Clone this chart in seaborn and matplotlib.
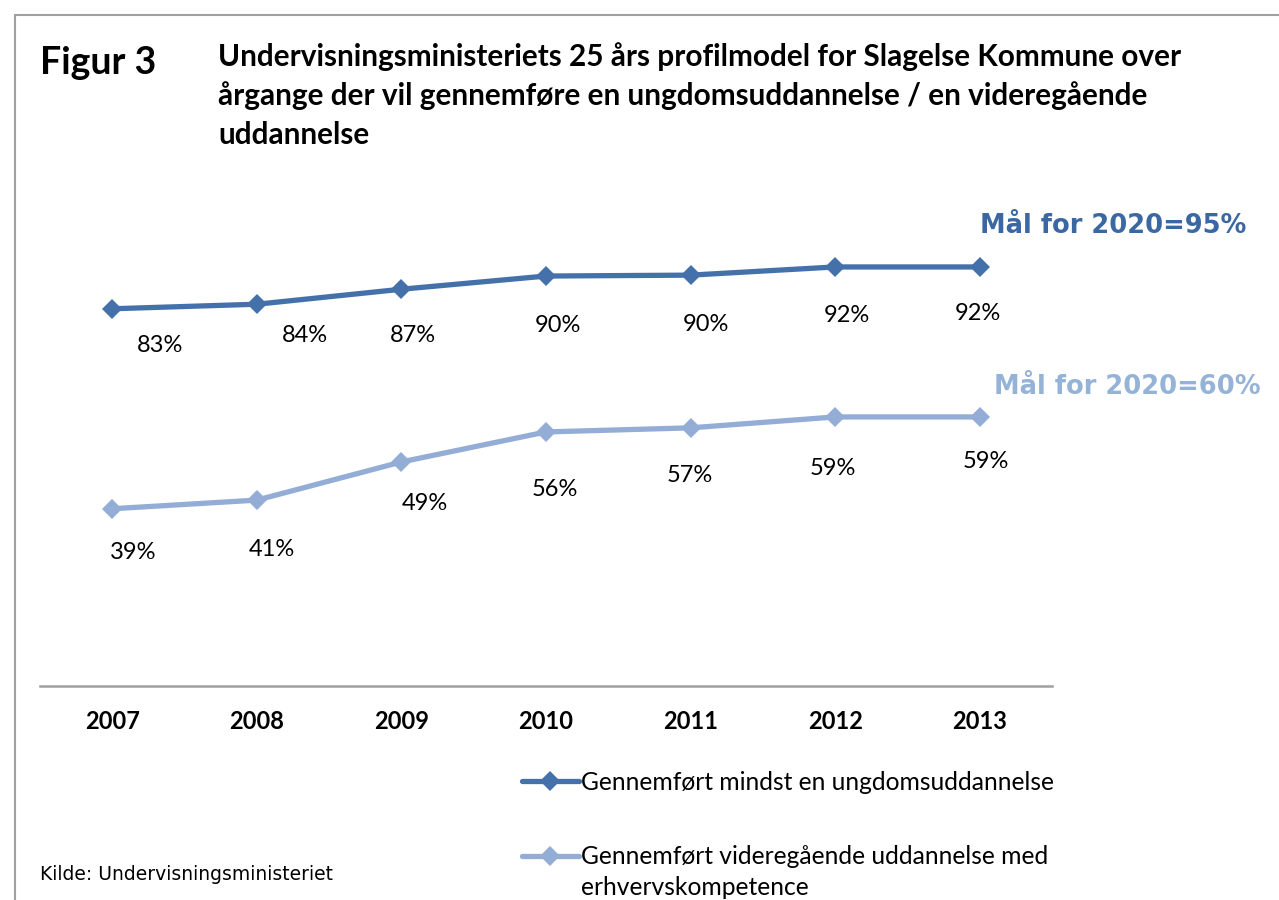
import matplotlib
matplotlib.use('Agg')
import matplotlib.pyplot as plt
import matplotlib.patches as mpatches
import pandas as pd
import seaborn as sns

# data
years = ['2007', '2008', '2009', '2010', '2011', '2012', '2013']
ungdom = [83.0, 84.0, 87.3, 90.2, 90.4, 92.2, 92.2]
videregaaende = [39.0, 40.9, 49.3, 55.9, 56.8, 59.2, 59.2]
series_names = ['Gennemført mindst en ungdomsuddannelse',
                'Gennemført videregående uddannelse med']
legend_wrap = 'erhvervskompetence'
goal_labels = ['Mål for 2020=95%', 'Mål for 2020=60%']

# label nudges (pixels) so the percentages sit where the original put them
ungdom_offsets = [(48, -37), (48, -31), (12, -46), (12, -49), (15, -49), (12, -49), (-2, -47)]
vid_offsets = [(21, -44), (15, -49), (23, -42), (9, -58), (-1, -48), (-2, -52), (6, -45)]

dark_blue = '#4571AA'
light_blue = '#93ADD6'

df = pd.DataFrame({
    'year': years * 2,
    'value': ungdom + videregaaende,
    'serie': [series_names[0]] * len(years) + [series_names[1]] * len(years),
})

sns.set_theme(style='white')
plt.rcParams['font.family'] = ['Lato', 'DejaVu Sans']
plt.rcParams['text.color'] = 'black'
plt.rcParams['xtick.color'] = 'black'

W, H = 1279, 900
fig = plt.figure(figsize=(W / 100, H / 100), dpi=100)
ax = fig.add_axes([40 / W, 1 - 686 / H, 1012 / W, 454.5 / H])

sns.lineplot(data=df, x='year', y='value', hue='serie', style='serie',
             markers=['D', 'D'], dashes=False, markersize=10, linewidth=3.8,
             markeredgewidth=0, palette=[dark_blue, light_blue],
             legend=False, ax=ax)

ax.set_xlim(-0.5, len(years) - 0.5)
ax.set_ylim(0, 100)
ax.set_xlabel('')
ax.set_ylabel('')
ax.set_yticks([])
for s in ['left', 'right', 'top']:
    ax.spines[s].set_visible(False)
ax.spines['bottom'].set_color('#A0A0A0')
ax.spines['bottom'].set_linewidth(1.8)
ax.tick_params(axis='x', length=0, pad=17)
for lab in ax.get_xticklabels():
    lab.set_fontweight('bold')
    lab.set_fontsize(17)

# value labels
for i, (v, off) in enumerate(zip(ungdom, ungdom_offsets)):
    ax.annotate(f'{v:.0f}%', (i, v), xytext=off, textcoords='offset pixels',
                ha='center', va='center', fontsize=17)
for i, (v, off) in enumerate(zip(videregaaende, vid_offsets)):
    ax.annotate(f'{v:.0f}%', (i, v), xytext=off, textcoords='offset pixels',
                ha='center', va='center', fontsize=17)

# 2020 goals
ax.text(6.0, 101.2, goal_labels[0], ha='left', va='center', fontsize=18.5,
        fontweight='bold', family='DejaVu Sans', color='#3B68A2', clip_on=False)
ax.text(6.1, 65.8, goal_labels[1], ha='left', va='center', fontsize=18.5,
        fontweight='bold', family='DejaVu Sans', color='#95B3D7', clip_on=False)

# legend
leg = fig.legend(handles=ax.lines[:2], labels=series_names, loc='upper left',
                 bbox_to_anchor=(522 / W, 1 - 771 / H), frameon=False, fontsize=17.7,
                 handlelength=2.3, handletextpad=0.1, labelspacing=2.08,
                 borderpad=0, borderaxespad=0)
fig.canvas.draw()
bb = leg.get_texts()[1].get_window_extent().transformed(fig.transFigure.inverted())
fig.text(bb.x0, bb.y0 - 31 / H + (bb.y1 - bb.y0) / 2, legend_wrap, fontsize=17.7,
         ha='left', va='center')

# titles and source
fig.text(40 / W, 1 - 63 / H, 'Figur 3', fontsize=27, fontweight='bold',
         ha='left', va='center')
fig.text(218 / W, 1 - 42 / H,
         'Undervisningsministeriets 25 års profilmodel for Slagelse Kommune over\n'
         'årgange der vil gennemføre en ungdomsuddannelse / en videregående\n'
         'uddannelse',
         fontsize=21.4, fontweight='bold', ha='left', va='top', linespacing=1.45)
fig.text(40 / W, 1 - 875 / H, 'Kilde: Undervisningsministeriet', fontsize=13.5,
         family='DejaVu Sans', ha='left', va='center')

# outer frame (cut off at right and bottom like the original)
fig.add_artist(mpatches.Rectangle((15 / W, -0.1), 1.2, 0.1 + 1 - 15 / H,
                                  transform=fig.transFigure, fill=False,
                                  edgecolor='#A0A0A0', linewidth=1.5))

fig.savefig('out.png', dpi=100)
